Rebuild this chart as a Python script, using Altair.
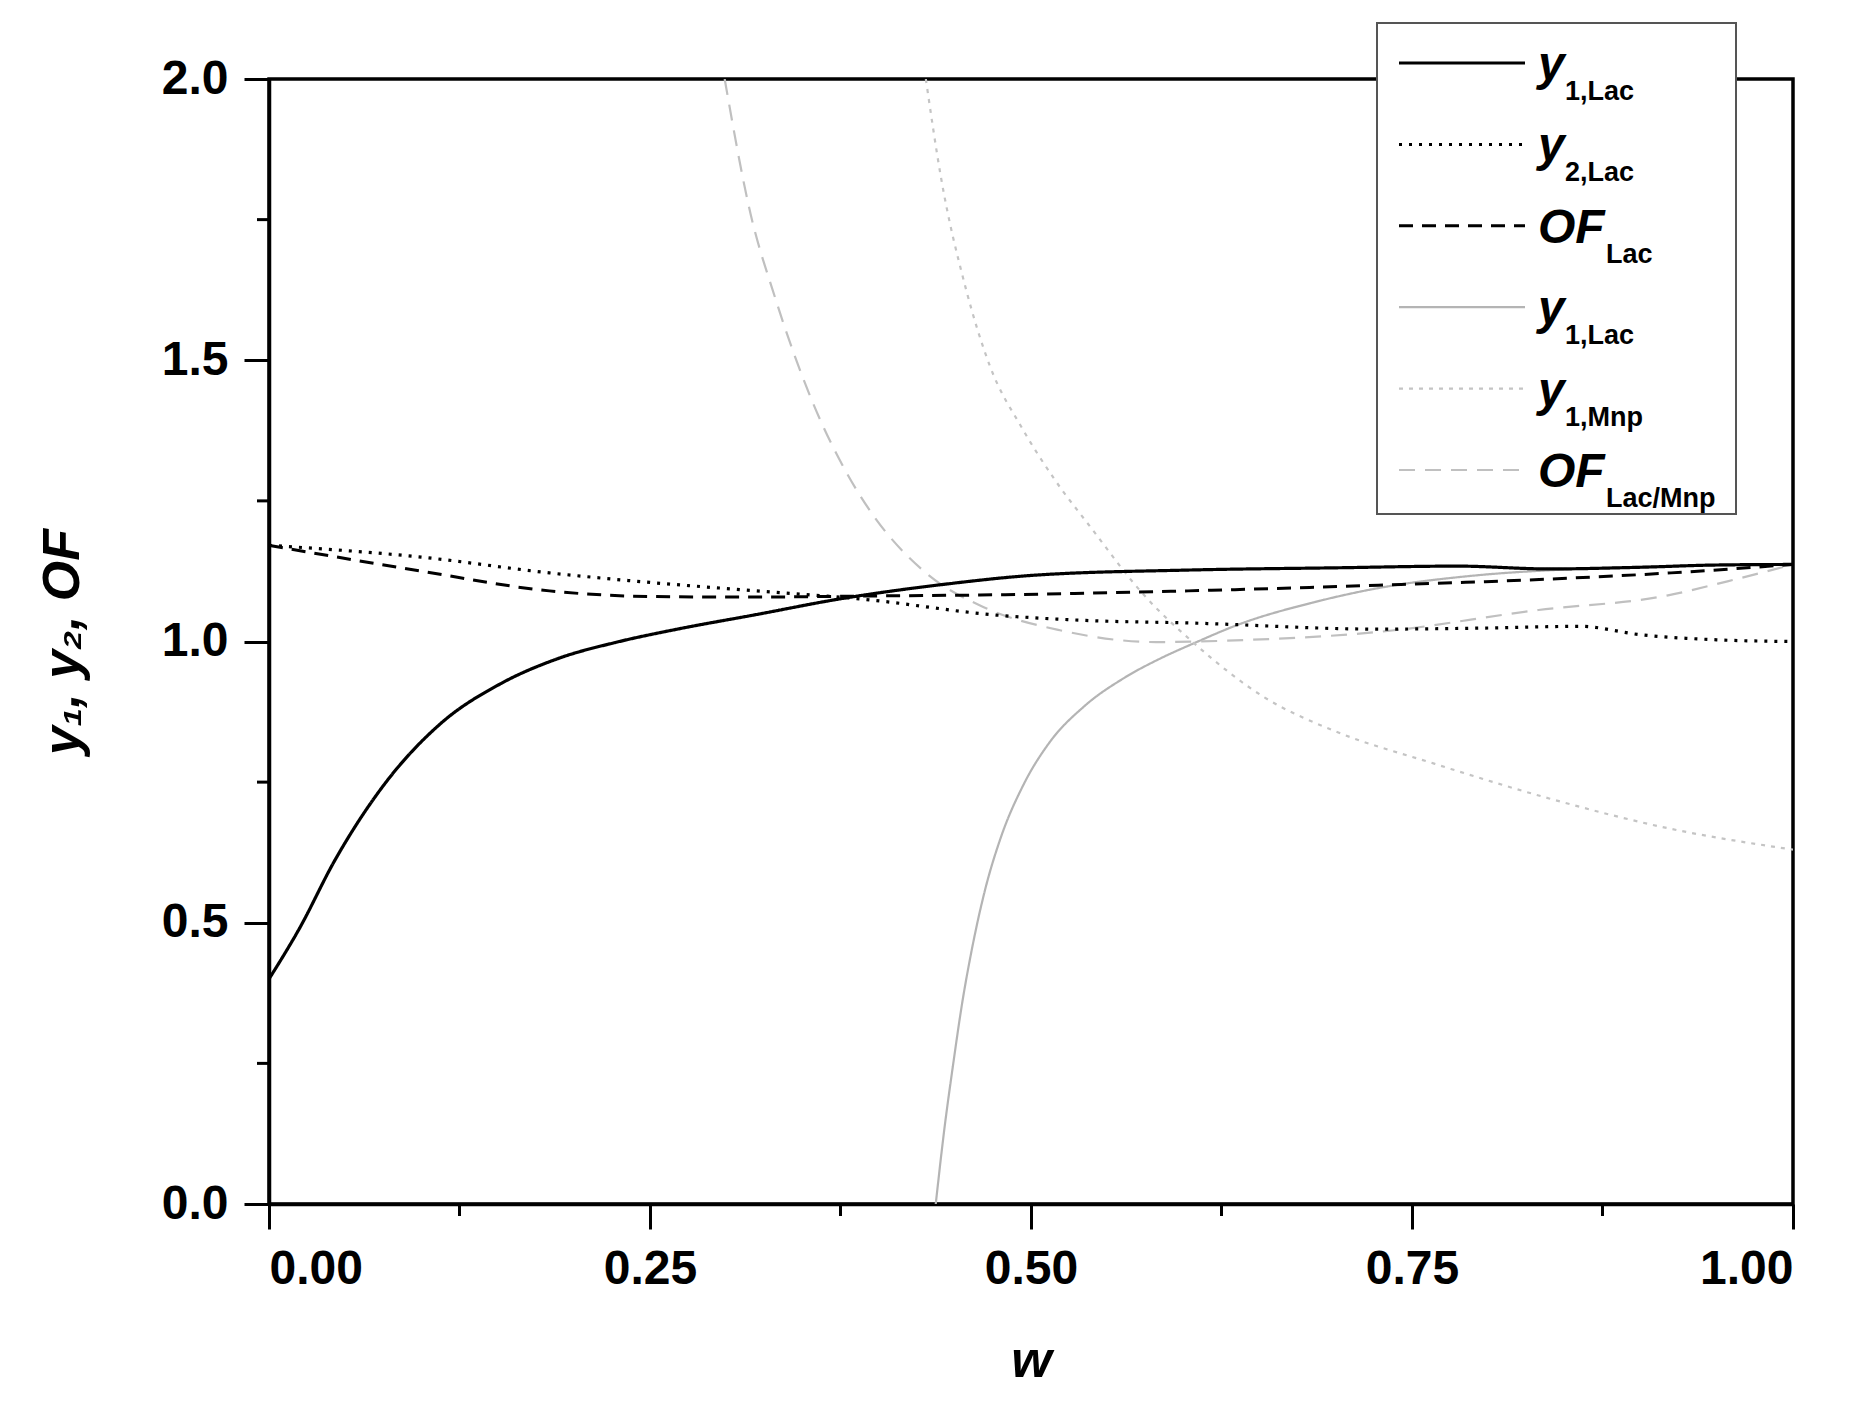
import altair as alt
import pandas as pd

# ---- data ----
w_y1_lac = [0, 0.02, 0.043, 0.074, 0.113, 0.152, 0.19, 0.23, 0.268, 0.32, 0.373, 0.444, 0.503, 0.603, 0.70, 0.78, 0.84, 0.90, 0.95, 1.0]
v_y1_lac = [0.40, 0.49, 0.61, 0.74, 0.855, 0.925, 0.97, 1.0, 1.022, 1.048, 1.075, 1.102, 1.118, 1.127, 1.131, 1.134, 1.129, 1.132, 1.136, 1.137]

w_y2_lac = [0, 0.1, 0.184, 0.25, 0.31, 0.394, 0.477, 0.54, 0.603, 0.728, 0.80, 0.86, 0.90, 0.95, 1.0]
v_y2_lac = [1.171, 1.15, 1.122, 1.105, 1.092, 1.074, 1.047, 1.037, 1.033, 1.022, 1.024, 1.027, 1.012, 1.003, 1.0]

w_of_lac = [0, 0.1, 0.184, 0.25, 0.31, 0.40, 0.477, 0.603, 0.728, 0.84, 0.92, 1.0]
v_of_lac = [1.171, 1.125, 1.09, 1.08, 1.079, 1.081, 1.083, 1.09, 1.1, 1.111, 1.122, 1.137]

w_y1_grey = [0.4375, 0.443, 0.449, 0.455, 0.461, 0.47, 0.48, 0.495, 0.512, 0.535, 0.561, 0.585, 0.607, 0.636, 0.686, 0.728, 0.79, 0.85, 0.92, 1.0]
v_y1_grey = [0, 0.13, 0.25, 0.36, 0.45, 0.56, 0.65, 0.745, 0.82, 0.885, 0.935, 0.97, 0.997, 1.03, 1.07, 1.095, 1.117, 1.128, 1.134, 1.137]

w_y1_mnp = [0.431, 0.441, 0.457, 0.473, 0.494, 0.515, 0.54, 0.573, 0.607, 0.653, 0.70, 0.762, 0.84, 0.918, 1.0]
v_y1_mnp = [2.0, 1.824, 1.63, 1.49, 1.38, 1.29, 1.20, 1.086, 0.997, 0.901, 0.84, 0.785, 0.721, 0.668, 0.63]

w_of_mix = [0.299, 0.316, 0.332, 0.356, 0.379, 0.394, 0.431, 0.469, 0.519, 0.582, 0.644, 0.728, 0.833, 0.918, 0.957, 1.0]
v_of_mix = [2.0, 1.76, 1.612, 1.43, 1.30, 1.234, 1.122, 1.061, 1.02, 0.999, 1.003, 1.017, 1.056, 1.082, 1.107, 1.137]

x_major = [0, 0.25, 0.5, 0.75, 1.0]
x_minor = [0.125, 0.375, 0.625, 0.875]
y_major = [0, 0.5, 1.0, 1.5, 2.0]
y_minor = [0.25, 0.75, 1.25, 1.75]

legend_main = ["y", "y", "OF", "y", "y", "OF"]
legend_sub = ["1,Lac", "2,Lac", "Lac", "1,Lac", "1,Mnp", "Lac/Mnp"]

# ---- styles ----
W, H = 1524, 1125
FONT = "Liberation Sans"
styles = [
    dict(color="#000000", dash=[1, 0], width=3.2),
    dict(color="#000000", dash=[3, 7], width=3.2),
    dict(color="#000000", dash=[14, 9], width=3.0),
    dict(color="#b4b4b4", dash=[1, 0], width=2.2),
    dict(color="#c4c4c4", dash=[4, 6], width=2.2),
    dict(color="#c0c0c0", dash=[16, 10], width=2.2),
]
series = [
    (w_y1_lac, v_y1_lac), (w_y2_lac, v_y2_lac), (w_of_lac, v_of_lac),
    (w_y1_grey, v_y1_grey), (w_y1_mnp, v_y1_mnp), (w_of_mix, v_of_mix),
]

xscale = alt.Scale(domain=[0, 1], nice=False, zero=False)
yscale = alt.Scale(domain=[0, 2], nice=False, zero=False)

xaxis = alt.Axis(values=x_major, format=".2f", title="w", titleFontStyle="italic",
                 titleFontWeight="bold", titleFontSize=52, titlePadding=42,
                 labelPadding=16, grid=False)
yaxis = alt.Axis(values=y_major, format=".1f", title="y₁, y₂, OF", titleFontStyle="italic",
                 titleFontWeight="bold", titleFontSize=52, titlePadding=72,
                 labelPadding=16, grid=False)

layers = []
order = [3, 4, 5, 0, 1, 2]
for i in order:
    ws, vs = series[i]
    st = styles[i]
    df = pd.DataFrame({"w": ws, "v": vs})
    layers.append(
        alt.Chart(df).mark_line(color=st["color"], strokeDash=st["dash"], strokeWidth=st["width"],
                                interpolate="monotone", clip=True).encode(
            x=alt.X("w:Q", scale=xscale, axis=xaxis),
            y=alt.Y("v:Q", scale=yscale, axis=yaxis),
        )
    )

# minor ticks
layers.append(
    alt.Chart(pd.DataFrame({"w": x_minor})).mark_rule(color="black", strokeWidth=3).encode(
        x=alt.X("w:Q", scale=xscale, axis=xaxis), y=alt.value(H), y2=alt.value(H + 12))
)
layers.append(
    alt.Chart(pd.DataFrame({"v": y_minor})).mark_rule(color="black", strokeWidth=3).encode(
        y=alt.Y("v:Q", scale=yscale, axis=yaxis), x=alt.value(0), x2=alt.value(-12))
)

# legend box
one = pd.DataFrame({"k": [0]})
layers.append(
    alt.Chart(one).mark_rect(fill="white", stroke="#555555", strokeWidth=2).encode(
        x=alt.value(1108), x2=alt.value(1467), y=alt.value(-56), y2=alt.value(435))
)
for i in range(6):
    st = styles[i]
    ly = -16 + 81.4 * i
    layers.append(
        alt.Chart(one).mark_rule(color=st["color"], strokeDash=st["dash"],
                                 strokeWidth=min(st["width"], 3.0)).encode(
            x=alt.value(1130), x2=alt.value(1256), y=alt.value(ly))
    )
    main = legend_main[i]
    layers.append(
        alt.Chart(pd.DataFrame({"t": [main]})).mark_text(
            font=FONT, fontSize=48, fontWeight="bold", fontStyle="italic",
            align="left", baseline="alphabetic", color="black").encode(
            text="t:N", x=alt.value(1269), y=alt.value(ly + 17))
    )
    sub_dx = 27 if main == "y" else 68
    layers.append(
        alt.Chart(pd.DataFrame({"t": [legend_sub[i]]})).mark_text(
            font=FONT, fontSize=27, fontWeight="bold",
            align="left", baseline="alphabetic", color="black").encode(
            text="t:N", x=alt.value(1269 + sub_dx), y=alt.value(ly + 37))
    )

chart = alt.layer(*layers).properties(
    width=W, height=H,
    autosize=alt.AutoSizeParams(type="none"),
    padding={"left": 261, "top": 71, "right": 60, "bottom": 190},
).configure_view(stroke="black", strokeWidth=3.5).configure_axis(
    domainColor="black", domainWidth=3.5, tickColor="black", tickWidth=3, tickSize=25,
    labelFont=FONT, labelFontWeight="bold", labelFontSize=48, labelColor="black",
    titleFont=FONT, titleColor="black",
)

chart.save("out.html", embed_options={"renderer": "svg", "actions": False})
